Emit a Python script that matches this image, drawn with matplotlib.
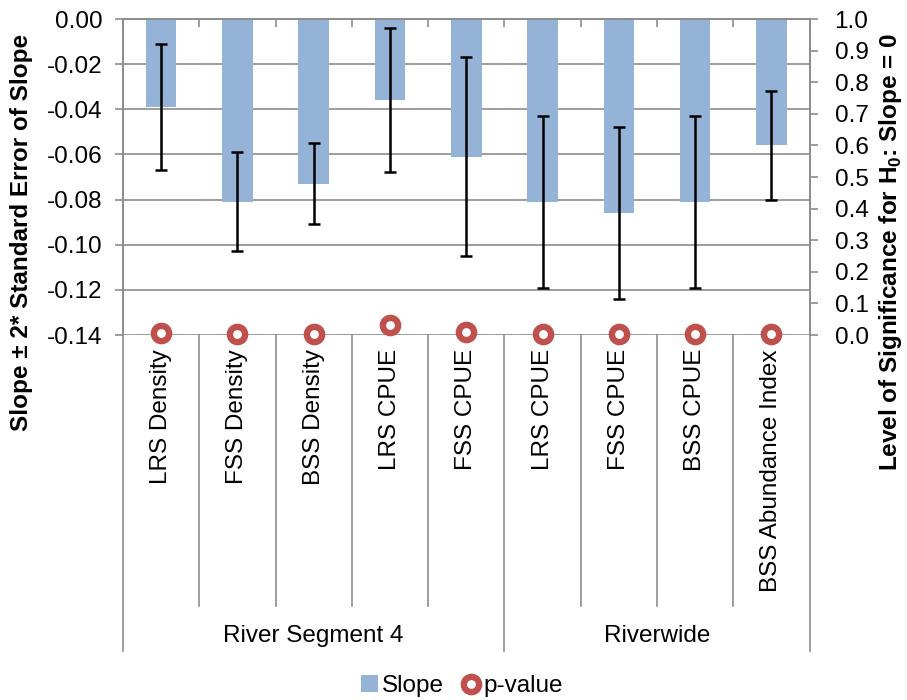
import matplotlib
matplotlib.use('Agg')
import matplotlib.pyplot as plt
import numpy as np
from matplotlib.lines import Line2D
from matplotlib.patches import Patch
import matplotlib.transforms as mtransforms

plt.rcParams['font.family'] = ['Liberation Sans', 'DejaVu Sans']
plt.rcParams['mathtext.fontset'] = 'custom'
plt.rcParams['mathtext.bf'] = 'Liberation Sans:bold'
plt.rcParams['mathtext.rm'] = 'Liberation Sans'

categories = ['LRS Density', 'FSS Density', 'BSS Density', 'LRS CPUE', 'FSS CPUE',
              'LRS CPUE', 'FSS CPUE', 'BSS CPUE', 'BSS Abundance Index']
groups = ['River Segment 4', 'Riverwide']
group_sizes = [5, 4]
slope = [-0.039, -0.081, -0.073, -0.036, -0.061, -0.081, -0.086, -0.081, -0.056]
slope_err = [0.028, 0.022, 0.018, 0.032, 0.044, 0.038, 0.038, 0.038, 0.024]
p_value = [0.005, 0.002, 0.002, 0.033, 0.010, 0.002, 0.002, 0.002, 0.002]
left_ticks = [0.00, -0.02, -0.04, -0.06, -0.08, -0.10, -0.12, -0.14]
right_ticks = [0.0, 0.1, 0.2, 0.3, 0.4, 0.5, 0.6, 0.7, 0.8, 0.9, 1.0]

GRID = '#8c8c8c'
BAR = '#95B3D7'
RED = '#C0504D'
FS = 17.5
MS = 11
MEW = 4.6

fig = plt.figure(figsize=(9.07, 7.0), dpi=100)
H = 700.0
W = 907.0
ax = fig.add_axes([123 / W, 1 - 335 / H, (809.5 - 123) / W, (335 - 19) / H])
ax2 = ax.twinx()

n = len(categories)
x = np.arange(n)
ax.set_xlim(-0.5, n - 0.5)
ax.set_ylim(-0.14, 0.0)
ax2.set_ylim(0, 1)

ax.set_yticks(left_ticks)
ax.set_yticklabels([f'{v:.2f}' if v != 0 else '0.00' for v in left_ticks])
ax.yaxis.grid(True, color=GRID, linewidth=1.2, zorder=0)
ax.set_axisbelow(True)
ax.tick_params(axis='y', direction='out', length=6, width=1.2, color=GRID,
               labelsize=FS, pad=9)

ax2.set_yticks(right_ticks)
ax2.set_yticklabels([f'{v:.1f}' for v in right_ticks])
ax2.tick_params(axis='y', direction='out', length=6, width=1.2, color=GRID,
                labelsize=FS, pad=12)

for a in (ax, ax2):
    for s in a.spines.values():
        s.set_color(GRID)
        s.set_linewidth(1.2)
    a.spines['bottom'].set_visible(False)

# top category tick marks at boundaries
ax.set_xticks(np.arange(n + 1) - 0.5)
ax.xaxis.set_ticks_position('top')
ax.tick_params(axis='x', direction='in', length=6, width=1.2, color=GRID,
               labeltop=False, labelbottom=False)
ax2.tick_params(axis='x', top=False, bottom=False, labeltop=False, labelbottom=False)

ax.bar(x, slope, width=0.4, color=BAR, zorder=2)
ax.errorbar(x, slope, yerr=slope_err, fmt='none', ecolor='black', elinewidth=1.8,
            capsize=4.5, capthick=1.8, zorder=3)

ax2.plot(x, p_value, linestyle='none', marker='o', markersize=MS,
         markerfacecolor='white', markeredgecolor=RED, markeredgewidth=MEW,
         clip_on=False, zorder=5)

# category labels and separators below plot
trans = mtransforms.blended_transform_factory(ax.transData, fig.transFigure)
for i, c in enumerate(categories):
    fig.text(i, 1 - 349 / H, c, transform=trans, rotation=90, ha='center', va='top',
             fontsize=FS)

bounds = np.cumsum([0] + group_sizes) - 0.5
for b in np.arange(n + 1) - 0.5:
    long_line = b in bounds
    y_end = 651 if long_line else 606
    fig.add_artist(Line2D([b, b], [1 - 335 / H, 1 - y_end / H], transform=trans,
                          color=GRID, linewidth=1.2))

for g, lo, hi in zip(groups, bounds[:-1], bounds[1:]):
    fig.text((lo + hi) / 2, 1 - 636 / H, g, transform=trans, ha='center',
             va='center', fontsize=FS)

fig.text(22 / W, 1 - 232 / H, 'Slope ± 2* Standard Error of Slope', rotation=90,
         ha='center', va='center', fontsize=FS, fontweight='bold')
fig.text(890 / W, 1 - 252 / H, r'Level of Significance for H$_\mathbf{0}$: Slope = 0',
         rotation=90, ha='center', va='center', fontsize=FS, fontweight='bold')

handles = [Patch(facecolor=BAR, edgecolor='none'),
           Line2D([], [], linestyle='none', marker='o', markersize=MS,
                  markerfacecolor='white', markeredgecolor=RED, markeredgewidth=MEW)]
fig.legend(handles, ['Slope', 'p-value'], loc='center', bbox_to_anchor=(462 / W, 1 - 686 / H),
           ncol=2, frameon=False, fontsize=FS, handlelength=0.7, handleheight=0.7,
           handletextpad=0.15, columnspacing=0.8, borderpad=0)

fig.savefig('out.png', dpi=100)
